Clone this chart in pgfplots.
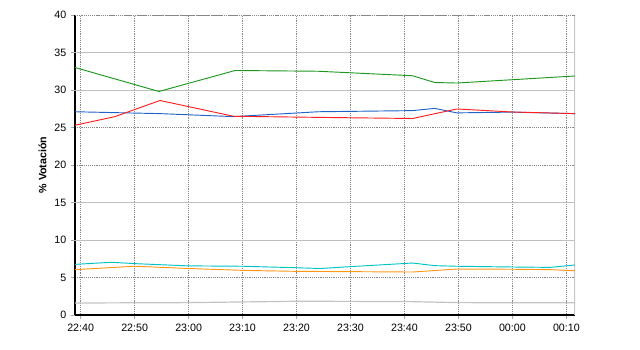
\documentclass[border=0pt]{standalone}
\usepackage{pgfplots}
\pgfplotsset{compat=1.18}
\usepackage{fontspec}
\setmainfont{Liberation Sans}
\definecolor{cgreen}{RGB}{30,150,30}
\definecolor{cred}{RGB}{255,30,30}
\definecolor{cblue}{RGB}{30,100,200}
\definecolor{ccyan}{RGB}{0,195,195}
\definecolor{corange}{RGB}{255,150,20}
\definecolor{cgray}{RGB}{195,195,195}
\begin{document}
\begin{tikzpicture}
\path[use as bounding box] (-56.25pt,-26.25pt) rectangle (423.75pt,236.25pt);
\begin{axis}[
  at={(0,0)}, anchor=south west,
  scale only axis, width=375pt, height=225pt,
  xmin=-1.05, xmax=91.6, ymin=0, ymax=40,
  axis x line*=bottom, axis y line*=left,
  axis line style={black, line width=0.8pt},
  xtick={0,10,...,90},
  xticklabels={22:40,22:50,23:00,23:10,23:20,23:30,23:40,23:50,00:00,00:10},
  ytick={0,5,20,25,40},
  extra y ticks={10,15,30,35},
  extra y tick style={grid style={solid, gray!50, line width=0.6pt}},
  tick align=outside, major tick length=3pt,
  tick style={gray!70, line width=0.5pt},
  xmajorgrids, ymajorgrids,
  grid style={densely dotted, gray!95, line width=0.6pt},
  ticklabel style={font=\fontsize{8}{9}\selectfont},
  /pgf/number format/assume math mode=true,
  ylabel={\textbf{\% Votación}},
  ylabel style={font=\fontsize{8}{9}\selectfont, yshift=-7pt},
  clip=true,
  every axis plot/.append style={line width=0.7pt},
]
\draw[gray!45, line width=0.8pt] (rel axis cs:1,0) -- (rel axis cs:1,1);
\draw[densely dotted, gray!95, line width=0.6pt] (rel axis cs:0,1) -- (rel axis cs:1,1);
% gray
\addplot[cgray, line width=0.9pt] coordinates {(-1.05,1.6) (20,1.65) (40,1.83) (60,1.8) (70,1.65) (91.6,1.62)};
% orange
\addplot[corange] coordinates {(-1.05,6.05) (10,6.5) (20,6.2) (30,5.95) (40,5.82) (50,5.78) (61.5,5.73) (69.7,6.13) (80,6.1) (87,6.05) (91.6,5.9)};
% cyan
\addplot[ccyan] coordinates {(-1.05,6.75) (5.7,7.03) (10,6.85) (20,6.55) (30,6.5) (40,6.3) (44.4,6.2) (50,6.45) (61.5,6.93) (65.6,6.58) (69.7,6.5) (80,6.4) (87,6.35) (91.6,6.67)};
% blue
\addplot[cblue] coordinates {(-1.05,27.1) (14.7,26.85) (28.3,26.45) (44,27.1) (61.5,27.25) (65.6,27.55) (69.7,26.95) (79.9,27.05) (91.6,26.85)};
% red
\addplot[cred] coordinates {(-1.05,25.3) (6.35,26.45) (14.7,28.6) (28.3,26.5) (44,26.35) (61.5,26.2) (69.7,27.47) (79.9,27.07) (91.6,26.85)};
% green
\addplot[cgreen] coordinates {(-1.05,33.0) (14.5,29.8) (28.6,32.6) (44,32.5) (61.5,31.9) (65.6,31.0) (69.7,30.93) (91.6,31.87)};
\end{axis}
\end{tikzpicture}
\end{document}
